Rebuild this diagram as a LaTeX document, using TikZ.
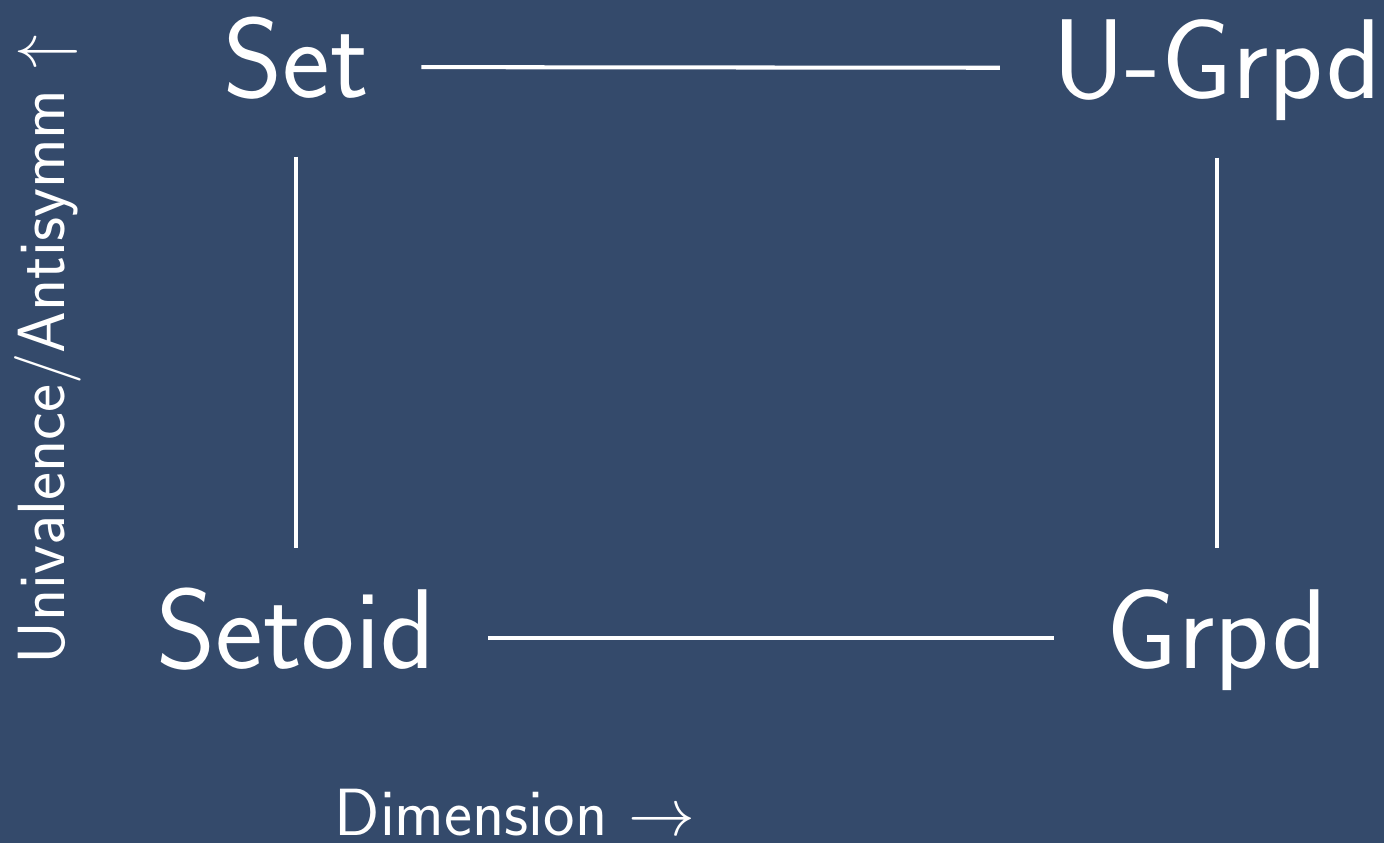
\documentclass[tikz,border=0pt]{standalone}
\usepackage{fix-cm}
\usepackage{amsmath,amssymb}
\usepackage{tikz}
\usetikzlibrary{positioning}
\renewcommand{\familydefault}{\sfdefault}
\definecolor{fond}{HTML}{344A6B}

\begin{document}
\begin{tikzpicture}[
        objet/.style={text=white, font=\fontsize{32.3}{40}\selectfont,
            text height=0.85cm, text depth=0.25cm,
            inner xsep=0.52cm, inner ysep=0.34cm, anchor=base},
        axe/.style={text=white, inner sep=0pt, anchor=base,
            font=\fontsize{19}{23}\selectfont},
        trait/.style={white, line width=1.15pt}]
        % Fond
        \fill[fond] (0,0) rectangle (13.84,-8.43);
        \useasboundingbox (0,0) rectangle (13.84,-8.43);

        % Les quatre objets
        \node[objet] (set) at (2.96,-0.97) {Set};
        \node[objet] (ugrpd) at (12.17,-0.98) {U-Grpd};
        \node[objet] (setoid) at (2.96,-6.68) {Setoid};
        \node[objet] (grpd) at (12.17,-6.68) {Grpd};

        % Traits
        \draw[trait] (set) -- (ugrpd);
        \draw[trait] (setoid) -- (grpd);
        \draw[trait] (set) -- (setoid);
        \draw[trait] (ugrpd) -- (grpd);

        % Axes
        \node[axe] (dim) at (5.15,-8.35) {Dimension $\rightarrow$};
        \node[axe, rotate=90] (univ) at (0.64,-3.50) {Univalence/Antisymm $\uparrow$};
    \end{tikzpicture}
\end{document}
